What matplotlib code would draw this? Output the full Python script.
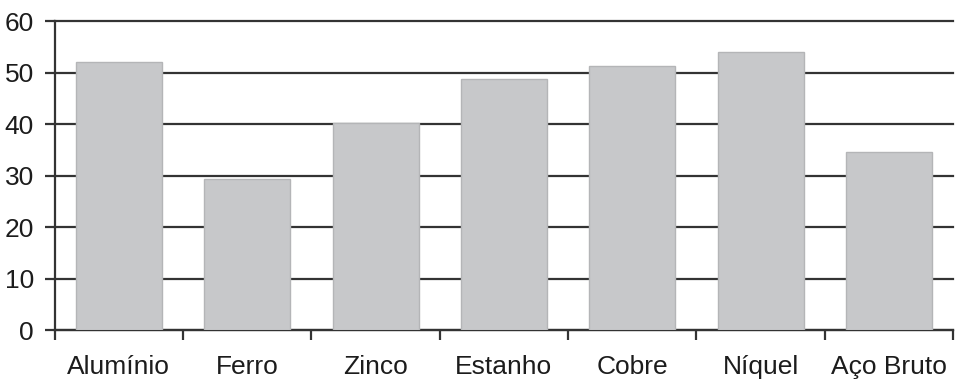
import matplotlib.pyplot as plt
import numpy as np

metais = ['Alumínio', 'Ferro', 'Zinco', 'Estanho', 'Cobre', 'Níquel', 'Aço Bruto']
valores = [52.0, 29.4, 40.2, 48.7, 51.3, 54.0, 34.6]

plt.rcParams['font.family'] = ['Liberation Sans', 'DejaVu Sans']

fig, ax = plt.subplots(figsize=(9.58, 3.84), dpi=100)
fig.subplots_adjust(left=0.057, right=0.995, top=0.945, bottom=0.14)

x = np.arange(len(metais))
ax.bar(x, valores, width=0.67, color='#c7c8ca', edgecolor='#b4b5b7', linewidth=1, zorder=3)

ax.set_ylim(0, 60)
ax.set_xlim(-0.5, len(metais) - 0.5)
ax.set_yticks(range(0, 61, 10))
ax.yaxis.grid(True, color='#333333', linewidth=1.6, zorder=0)
ax.set_axisbelow(True)
for linha in ax.get_ygridlines():
    linha.set_clip_on(False)

# traços entre as categorias, rótulos no centro
ax.set_xticks(np.arange(-0.5, len(metais), 1))
ax.set_xticklabels([])
ax.set_xticks(x, minor=True)
ax.set_xticklabels(metais, minor=True)
ax.tick_params(axis='x', which='major', length=7, width=1.6, color='#333333')
ax.tick_params(axis='x', which='minor', length=0, pad=18, labelsize=19, labelcolor='#1c1c1c')
ax.tick_params(axis='y', length=7, width=1.6, color='#333333', labelsize=19, labelcolor='#1c1c1c', pad=8)

ax.spines['top'].set_visible(False)
ax.spines['right'].set_visible(False)
for s in ['left', 'bottom']:
    ax.spines[s].set_color('#333333')
    ax.spines[s].set_linewidth(1.6)

fig.savefig('out.png', dpi=100)
